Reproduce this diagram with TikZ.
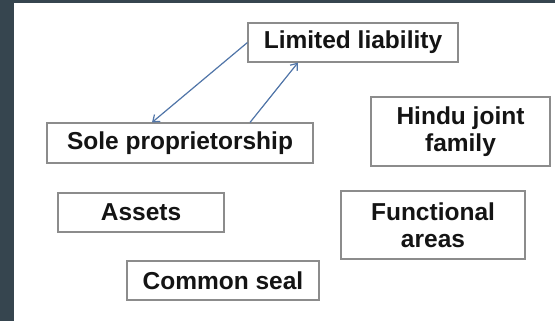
\documentclass[tikz,border=0pt]{standalone}
\usepackage{fontspec}
\setmainfont{Liberation Sans}
\usetikzlibrary{arrows.meta}
\definecolor{bgdark}{HTML}{36454F}
\definecolor{boxline}{HTML}{8C8C8C}
\definecolor{arrowblue}{HTML}{5075A8}
\tikzset{
  box/.style={draw=boxline, line width=1.1pt, fill=white, rectangle, inner sep=0pt,
    align=center, font=\fontsize{24.5}{27}\selectfont\bfseries, text=black!92},
  link/.style={draw=arrowblue, line width=1.2pt, -{Straight Barb[length=6pt,width=9pt]}}
}
\begin{document}
\begin{tikzpicture}[x=1pt,y=-1pt]
\useasboundingbox (0,0) rectangle (555,321);
\fill[bgdark] (0,0) rectangle (555,321);
\fill[white] (14,3) rectangle (555,321);
\node[box, minimum width=210pt, minimum height=39pt] (lim) at (353,42.5) {Limited liability};
\node[box, minimum width=266pt, minimum height=40pt] (sole) at (180,143) {Sole proprietorship};
\node[box, minimum width=179pt, minimum height=69pt] (hindu) at (460.5,131.5) {Hindu joint\\family};
\node[box, minimum width=166pt, minimum height=39pt] (assets) at (141,212.5) {Assets};
\node[box, minimum width=184pt, minimum height=68pt] (func) at (433,225) {Functional\\areas};
\node[box, minimum width=192pt, minimum height=39pt] (seal) at (223,280.5) {Common seal};
\draw[link] (lim.west) -- ([xshift=-28pt]sole.north);
\draw[link] ([xshift=70pt]sole.north) -- ([xshift=-55pt]lim.south);
\end{tikzpicture}
\end{document}
